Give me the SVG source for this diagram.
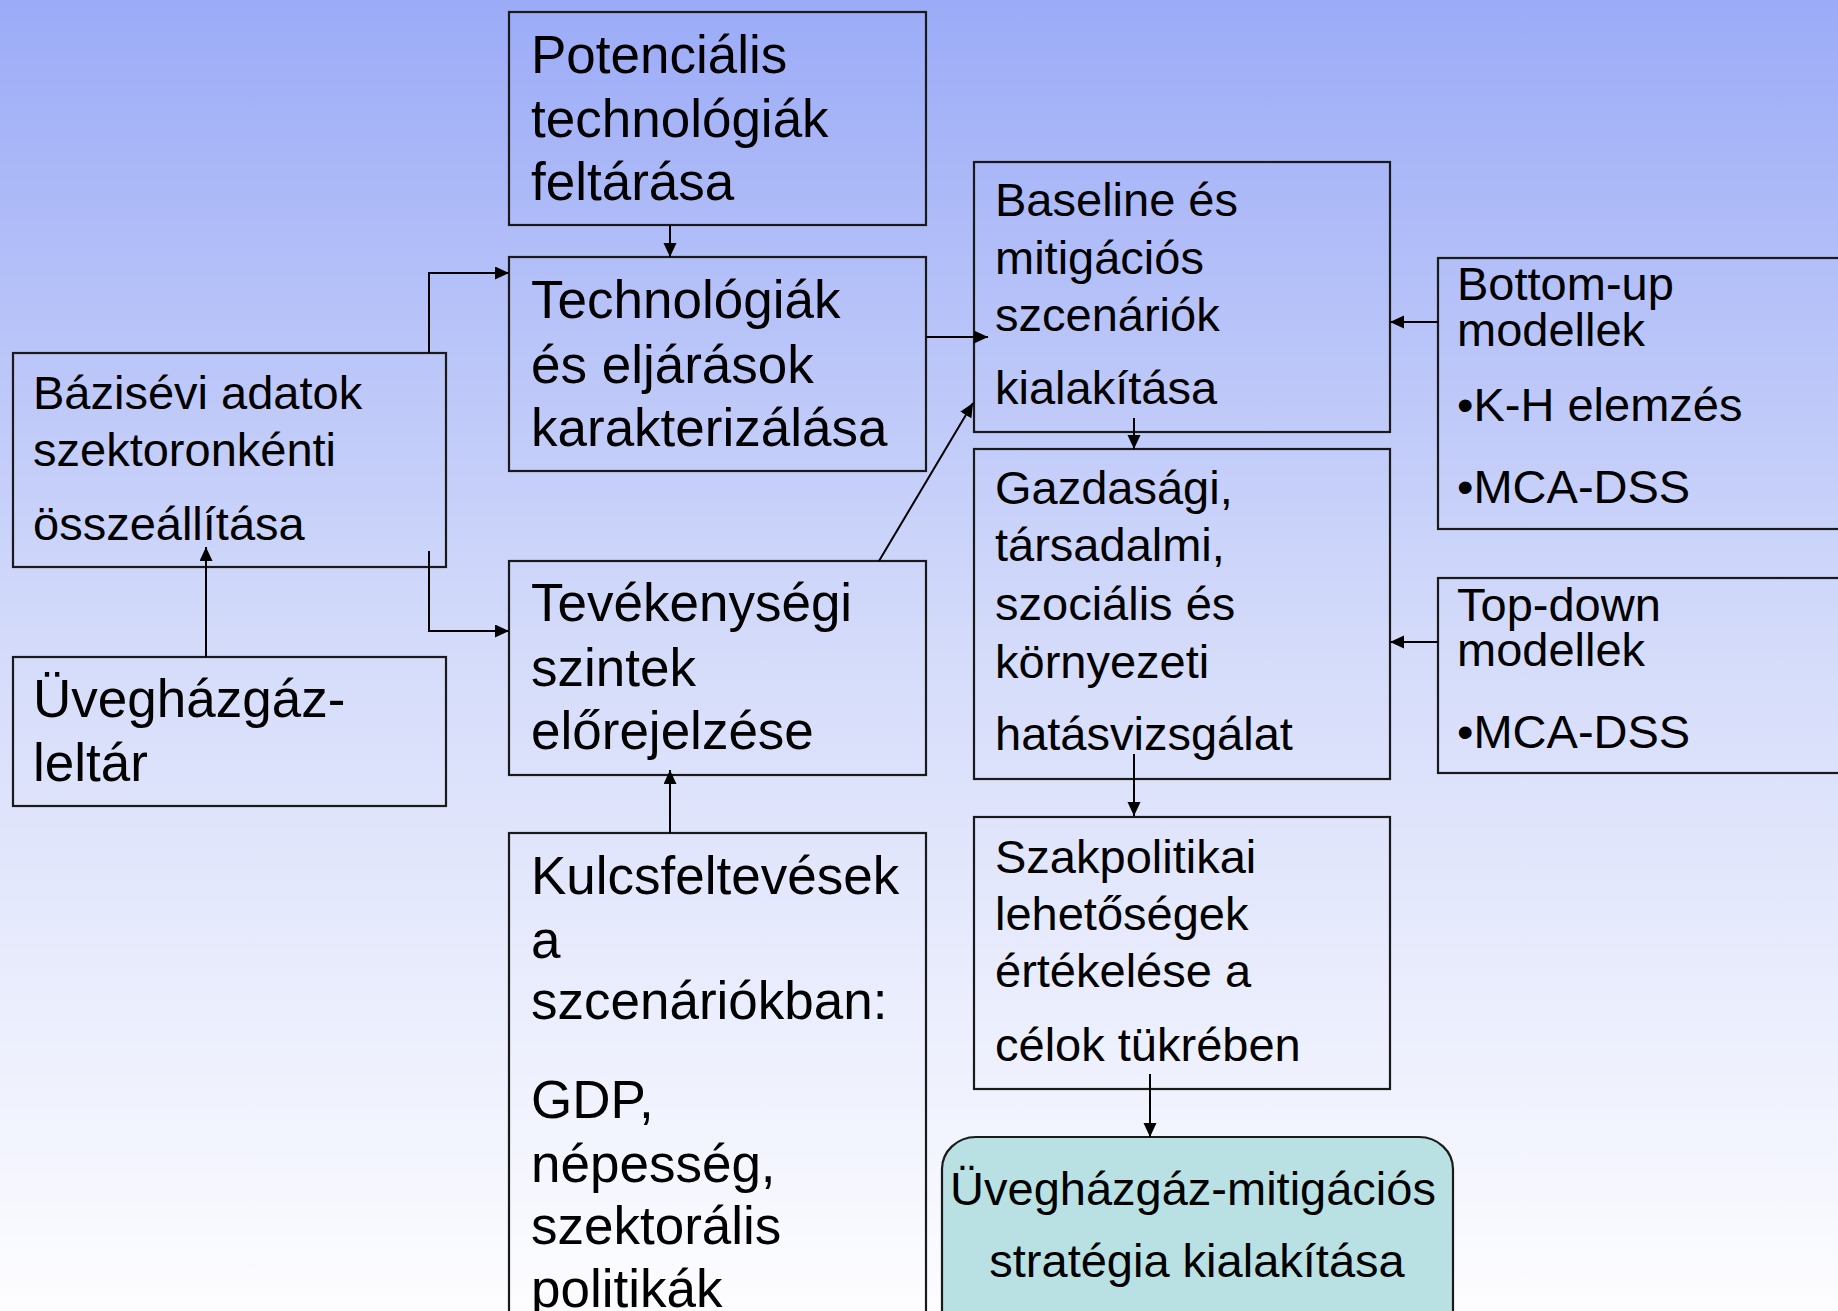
<svg xmlns="http://www.w3.org/2000/svg" width="1838" height="1311" viewBox="0 0 1838 1311">
<defs>
<linearGradient id="bg" x1="0" y1="0" x2="0" y2="1">
<stop offset="0" stop-color="#9babf7"/>
<stop offset="0.5" stop-color="#d5dcfa"/>
<stop offset="1" stop-color="#fdfdff"/>
</linearGradient>
<marker id="ah" markerUnits="userSpaceOnUse" markerWidth="16" markerHeight="14" refX="14" refY="6.5" orient="auto">
<path d="M0,0 L14,6.5 L0,13 z" fill="#000"/>
</marker>
<style>
.box{fill:none;stroke:#1a1a1a;stroke-width:2.2}
.fin{fill:#b9e0e3;stroke:#1a1a1a;stroke-width:2.2}
.t{font-family:"Liberation Sans",Arial,sans-serif;fill:#000}
.big{font-size:53px}
.sm{font-size:47px}
.c line,.c polyline{stroke:#000;stroke-width:2;fill:none;marker-end:url(#ah)}
</style>
</defs>
<rect x="0" y="0" width="1838" height="1311" fill="url(#bg)"/>

<g id="potencialis">
<rect class="box" x="509" y="12" width="417" height="213"/>
<text class="t big"><tspan x="531" y="73">Potenciális</tspan><tspan x="531" y="137">technológiák</tspan><tspan x="531" y="200">feltárása</tspan></text>
</g>
<g id="technologiak">
<rect class="box" x="509" y="257" width="417" height="214"/>
<text class="t big"><tspan x="531" y="318">Technológiák</tspan><tspan x="531" y="383">és eljárások</tspan><tspan x="531" y="446">karakterizálása</tspan></text>
</g>
<g id="bazisevi">
<rect class="box" x="13" y="353" width="433" height="214"/>
<text class="t sm"><tspan x="33" y="409">Bázisévi adatok</tspan><tspan x="33" y="466">szektoronkénti</tspan><tspan x="33" y="540">összeállítása</tspan></text>
</g>
<g id="uveghazgaz-leltar">
<rect class="box" x="13" y="657" width="433" height="149"/>
<text class="t big"><tspan x="33" y="717">Üvegházgáz-</tspan><tspan x="33" y="781">leltár</tspan></text>
</g>
<g id="tevekenysegi">
<rect class="box" x="509" y="561" width="417" height="214"/>
<text class="t big"><tspan x="531" y="621">Tevékenységi</tspan><tspan x="531" y="686">szintek</tspan><tspan x="531" y="749">előrejelzése</tspan></text>
</g>
<g id="kulcsfeltevesek">
<rect class="box" x="509" y="833" width="417" height="500"/>
<text class="t big"><tspan x="531" y="894">Kulcsfeltevések</tspan><tspan x="531" y="958">a</tspan><tspan x="531" y="1019">szcenáriókban:</tspan><tspan x="531" y="1118">GDP,</tspan><tspan x="531" y="1182">népesség,</tspan><tspan x="531" y="1244">szektorális</tspan><tspan x="531" y="1307">politikák</tspan></text>
</g>
<g id="baseline">
<rect class="box" x="974" y="162" width="416" height="270"/>
<text class="t sm"><tspan x="995" y="216">Baseline és</tspan><tspan x="995" y="274">mitigációs</tspan><tspan x="995" y="331">szcenáriók</tspan><tspan x="995" y="404">kialakítása</tspan></text>
</g>
<g id="gazdasagi">
<rect class="box" x="974" y="449" width="416" height="330"/>
<text class="t sm"><tspan x="995" y="504">Gazdasági,</tspan><tspan x="995" y="561">társadalmi,</tspan><tspan x="995" y="620">szociális és</tspan><tspan x="995" y="678">környezeti</tspan><tspan x="995" y="750">hatásvizsgálat</tspan></text>
</g>
<g id="szakpolitikai">
<rect class="box" x="974" y="817" width="416" height="272"/>
<text class="t sm"><tspan x="995" y="873">Szakpolitikai</tspan><tspan x="995" y="930">lehetőségek</tspan><tspan x="995" y="987">értékelése a</tspan><tspan x="995" y="1061">célok tükrében</tspan></text>
</g>
<g id="bottom-up">
<rect class="box" x="1438" y="258" width="420" height="271"/>
<text class="t sm"><tspan x="1457" y="300">Bottom-up</tspan><tspan x="1457" y="346">modellek</tspan><tspan x="1457" y="421">•K-H elemzés</tspan><tspan x="1457" y="503">•MCA-DSS</tspan></text>
</g>
<g id="top-down">
<rect class="box" x="1438" y="578" width="420" height="195"/>
<text class="t sm"><tspan x="1457" y="621">Top-down</tspan><tspan x="1457" y="666">modellek</tspan><tspan x="1457" y="748">•MCA-DSS</tspan></text>
</g>
<g id="strategia">
<rect class="fin" x="942" y="1137" width="511" height="220" rx="34" ry="32"/>
<text class="t sm" text-anchor="middle"><tspan x="1193" y="1205">Üvegházgáz-mitigációs</tspan><tspan x="1197" y="1277">stratégia kialakítása</tspan></text>
</g>

<g id="connectors" class="c">
<line x1="670" y1="225" x2="670" y2="257"/>
<polyline points="429,353 429,273 509,273"/>
<polyline points="429,551 429,631 509,631"/>
<line x1="206" y1="657" x2="206" y2="547"/>
<line x1="670" y1="833" x2="670" y2="770"/>
<line x1="926" y1="337" x2="988" y2="337"/>
<line x1="879" y1="561" x2="973" y2="403"/>
<line x1="1438" y1="322" x2="1390" y2="322"/>
<line x1="1134" y1="418" x2="1134" y2="449"/>
<line x1="1438" y1="642" x2="1390" y2="642"/>
<line x1="1134" y1="754" x2="1134" y2="816"/>
<line x1="1150" y1="1074" x2="1150" y2="1137"/>
</g>
</svg>
